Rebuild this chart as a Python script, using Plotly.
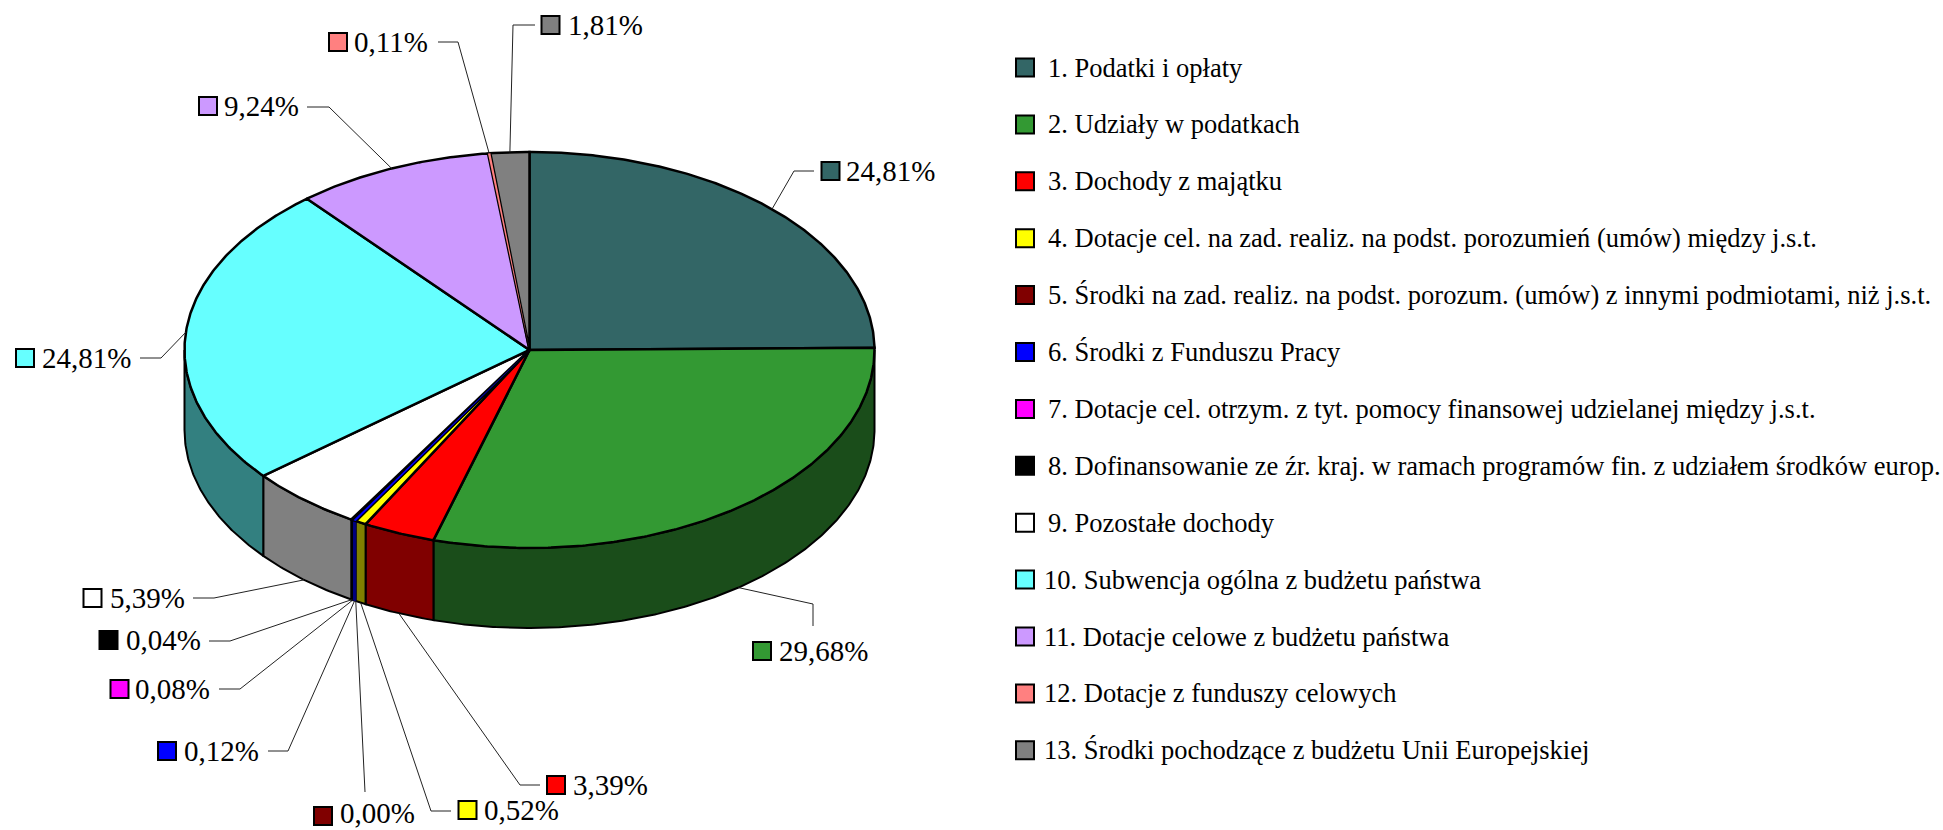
import numpy as np
import plotly.graph_objects as go

categories = [
    "1. Podatki i opłaty",
    "2. Udziały w podatkach",
    "3. Dochody z majątku",
    "4. Dotacje cel. na zad. realiz. na podst. porozumień (umów) między j.s.t.",
    "5. Środki na zad. realiz. na podst. porozum. (umów) z innymi podmiotami, niż j.s.t.",
    "6. Środki z Funduszu Pracy",
    "7. Dotacje cel. otrzym. z tyt. pomocy finansowej udzielanej między j.s.t.",
    "8. Dofinansowanie ze źr. kraj. w ramach programów fin. z udziałem środków europ.",
    "9. Pozostałe dochody",
    "10. Subwencja ogólna z budżetu państwa",
    "11. Dotacje celowe z budżetu państwa",
    "12. Dotacje z funduszy celowych",
    "13. Środki pochodzące z budżetu Unii Europejskiej",
]
values = [24.81, 29.68, 3.39, 0.52, 0.00, 0.12, 0.08, 0.04, 5.39, 24.81, 9.24, 0.11, 1.81]
top_colors = ["#336666", "#339933", "#FF0000", "#FFFF00", "#800000", "#0000FF", "#FF00FF",
              "#000000", "#FFFFFF", "#66FFFF", "#CC99FF", "#FF8080", "#808080"]
side_colors = ["#1A3333", "#1A4D1A", "#800000", "#808000", "#400000", "#000080", "#800080",
               "#000000", "#808080", "#338080", "#664D80", "#804040", "#404040"]

# Layout (pixels of the 1943x830 page)
W, H = 1943, 830
CX, CY, RX, RY, DEPTH = 529.5, 350, 345, 198, 80
LABEL_FONT = 29
LEGEND_FONT = 26.5
FONT = "Liberation Serif"
BOX = 18
# marker centre (x, y), text left edge, text y, leader elbow and leader end, per slice
label_marker = [(830.5, 171), (762, 651), (556, 785), (467.5, 810), (323, 816), (167, 751), (119.5, 689),
                (108.5, 640), (92.5, 598), (25, 358), (208, 106), (338, 42), (550.5, 25)]
label_text_x = [846, 779, 573, 483.5, 340, 184, 134.5, 125.5, 109.5, 42, 224, 354, 568]
label_text_y = [171, 651, 785, 810, 813, 751, 689, 640, 598, 358, 106, 42, 25]
leader_elbow = [(794, 171), (813, 604), (520, 785), (431, 811), (365, 792), (288, 751), (240, 689),
                (230, 641), (214, 598), (161, 358), (329, 107), (458, 42), (513, 25)]
leader_end = [(814, 171), (813, 626), (540, 785), (451, 811), (365, 792), (268, 751), (219, 689),
              (209, 641), (193, 598), (140, 358), (307, 107), (438, 42), (535, 25)]
LEGEND_X, LEGEND_Y0, LEGEND_DY = 1025, 67.5, 56.9
LEGEND_TEXT_X = [1047.5] * 9 + [1043.5] * 4
# slices too thin for an outline: painted last, as a bare fill over the neighbours' edges
BARE_FILL = {"6. Środki z Funduszu Pracy", "12. Dotacje z funduszy celowych"}

fractions = np.array(values) / sum(values)
edges = np.concatenate([[0], np.cumsum(fractions)]) * 2 * np.pi


def ell(a, drop=0.0):
    a = np.asarray(a, dtype=float)
    return CX + RX * np.sin(a), CY - RY * np.cos(a) + drop


fig = go.Figure()
order = sorted(range(len(categories)), key=lambda k: categories[k] in BARE_FILL)

# Side wall: only the part of each slice that faces the viewer
for i in order:
    name = categories[i]
    a0, a1 = max(edges[i], np.pi / 2), min(edges[i + 1], 3 * np.pi / 2)
    if a1 <= a0:
        continue
    t = np.linspace(a0, a1, max(2, int((a1 - a0) * 120)))
    xt, yt = ell(t)
    xb, yb = ell(t[::-1], DEPTH)
    bare = name in BARE_FILL
    fig.add_trace(go.Scatter(
        x=np.r_[xt, xb, xt[0]], y=np.r_[yt, yb, yt[0]], mode="lines", fill="toself",
        fillcolor=side_colors[i],
        line=dict(color=side_colors[i] if bare else "black", width=1 if bare else 2),
        name=name, hoverinfo="skip"))

# Top face
for i in order:
    name = categories[i]
    a0, a1 = edges[i], edges[i + 1]
    t = np.linspace(a0, a1, max(2, int((a1 - a0) * 120)))
    xt, yt = ell(t)
    bare = name in BARE_FILL
    fig.add_trace(go.Scatter(
        x=np.r_[CX, xt, CX], y=np.r_[CY, yt, CY], mode="lines", fill="toself",
        fillcolor=top_colors[i],
        line=dict(color=top_colors[i], width=0) if bare else dict(color="black", width=2.5),
        name=name, text=f"{values[i]:.2f}%".replace(".", ","), hoverinfo="name+text"))

# Leader lines, anchored at each slice's mid angle on the visible rim
mids = (edges[:-1] + edges[1:]) / 2
for i in range(len(values)):
    front = np.cos(mids[i]) < 0
    ax, ay = ell(mids[i], DEPTH if front else 0)
    ex, ey = leader_elbow[i]
    fx, fy = leader_end[i]
    fig.add_trace(go.Scatter(x=[float(ax), ex, fx], y=[float(ay), ey, fy], mode="lines",
                             line=dict(color="#222222", width=1), hoverinfo="skip"))

marker_style = dict(symbol="square", size=BOX, color=top_colors, line=dict(color="black", width=2))

# Percentage labels
fig.add_trace(go.Scatter(x=[p[0] for p in label_marker], y=[p[1] for p in label_marker],
                         mode="markers", marker=marker_style, hoverinfo="skip"))
for i, v in enumerate(values):
    fig.add_annotation(x=label_text_x[i], y=label_text_y[i], text=f"{v:.2f}%".replace(".", ","),
                       showarrow=False, xanchor="left", yanchor="middle", xshift=-2,
                       font=dict(family=FONT, size=LABEL_FONT, color="black"))

# Legend
ly = [LEGEND_Y0 + k * LEGEND_DY for k in range(len(categories))]
fig.add_trace(go.Scatter(x=[LEGEND_X] * len(categories), y=ly, mode="markers",
                         marker=marker_style, hoverinfo="skip"))
for k, name in enumerate(categories):
    fig.add_annotation(x=LEGEND_TEXT_X[k], y=ly[k], text=name, showarrow=False, xanchor="left",
                       yanchor="middle", xshift=-2,
                       font=dict(family=FONT, size=LEGEND_FONT, color="black"))

fig.update_layout(
    width=W, height=H, margin=dict(l=0, r=0, t=0, b=0), showlegend=False,
    paper_bgcolor="white", plot_bgcolor="white",
    xaxis=dict(range=[0, W], visible=False, fixedrange=True),
    yaxis=dict(range=[H, 0], visible=False, fixedrange=True),
)
fig.write_html("out.html", config=dict(displayModeBar=False),
               post_script="document.body.style.margin='0';document.body.style.overflow='hidden';")
